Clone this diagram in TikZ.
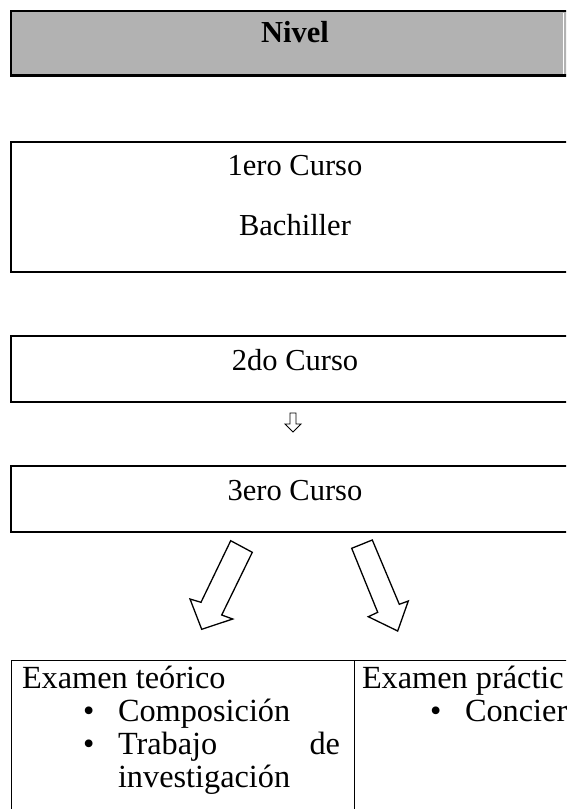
\documentclass[tikz,border=0pt]{standalone}
\usepackage{fontspec}
\setmainfont{Liberation Serif}
\begin{document}
\begin{tikzpicture}[x=1pt,y=-1pt, every node/.style={inner sep=0pt, outer sep=0pt}]
\tikzset{
 txt/.style={font=\fontsize{30.5}{33}\selectfont, anchor=base},
 ltxt/.style={font=\fontsize{32.3}{33}\selectfont, anchor=base west},
 rtxt/.style={font=\fontsize{32.3}{33}\selectfont, anchor=base east},
 frame/.style={draw=black, line width=2pt},
 hollow/.style={draw=black, line width=1.3pt, fill=white, line join=miter},
 rulel/.style={draw=black, line width=1pt}
}
\definecolor{hdrgray}{RGB}{178,178,178}
\useasboundingbox (0,0) rectangle (566,809);
\clip (0,0) rectangle (566,809);
% header
\filldraw[fill=hdrgray, draw=black, line width=2.5pt] (11,11) rectangle (585,75.5);
\draw[white, line width=1pt] (563.5,12.5) -- (563.5,74);
\node[txt] (nivel) at (295,42) {\textbf{Nivel}};
% box 1
\draw[frame] (10.5,142) rectangle (580,271.5);
\node[txt] (c1) at (295,175) {1ero Curso};
\node[txt] (bach) at (295,235) {Bachiller};
% box 2
\draw[frame] (10.5,336) rectangle (580,401.5);
\node[txt] (c2) at (295,370) {2do Curso};
% small arrow
\draw[draw=black, line width=0.9pt, line join=miter] (290,413) -- (296,413) -- (296,424) -- (301,424) -- (293,432) -- (285,424) -- (290,424) -- cycle;
% box 3
\draw[frame] (10.5,466) rectangle (580,531.5);
\node[txt] (c3) at (295,500) {3ero Curso};
% big arrows
\draw[hollow] (230.7,540.7) -- (252.3,552.3) -- (221.7,615) -- (232.7,619) -- (201.7,629.3) -- (190,599) -- (201,602.3) -- cycle;
\draw[hollow] (351.7,548.3) -- (372.3,540) -- (399.3,604.3) -- (408.3,601) -- (397.7,631) -- (368.3,616.7) -- (377.7,612.3) -- cycle;
% table
\draw[rulel] (11.5,660) -- (580,660);
\draw[rulel] (11.5,660) -- (11.5,820);
\draw[rulel] (354,660) -- (354,820);
\node[ltxt] (et) at (22,688) {Examen teórico};
\node[ltxt] (b1) at (83,721) {•};
\node[ltxt] (comp) at (118,721) {Composición};
\node[ltxt] (b2) at (83,754) {•};
\node[ltxt] (trab) at (118,754) {Trabajo};
\node[rtxt] (de) at (340,754) {de};
\node[ltxt] (inv) at (118,787) {investigación};
\node[ltxt] (ep) at (362,688) {Examen práctic};
\node[ltxt] (b3) at (430,721) {•};
\node[ltxt] (conc) at (465,721) {Concier};
\end{tikzpicture}
\end{document}
